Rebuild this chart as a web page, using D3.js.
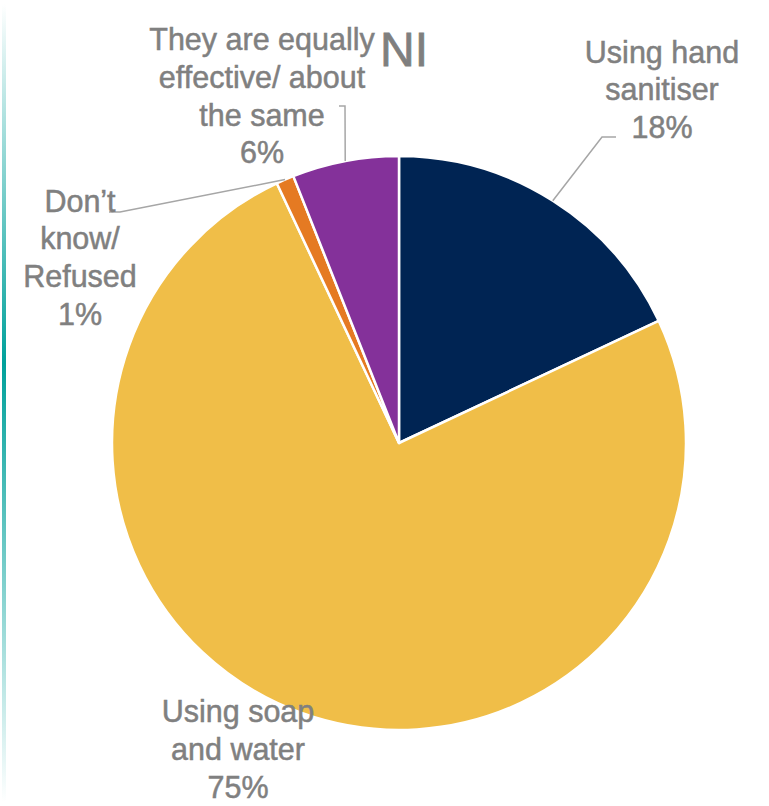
<!DOCTYPE html>
<html>
<head>
<meta charset="utf-8">
<script src="https://cdn.jsdelivr.net/npm/d3@7"></script>
<style>
  html, body { margin: 0; padding: 0; background: #ffffff; }
  svg { display: block; }
</style>
</head>
<body>
<svg id="chart" width="769" height="806"></svg>
<script>
// ---- data ----
const title = "NI";
const categories = ["Using hand sanitiser", "Using soap and water", "Don’t know/ Refused", "They are equally effective/ about the same"];
const values = [18, 75, 1, 6];
const labelLines = [
  ["Using hand", "sanitiser"],
  ["Using soap", "and water"],
  ["Don’t", "know/", "Refused"],
  ["They are equally", "effective/ about", "the same"]
];
const colors = ["#002453", "#F0BE48", "#E57A22", "#84319A"];

// ---- layout ----
const W = 769, H = 806;
const cx = 399, cy = 443, R = 287;
const fontSize = 30.5, lineH = 37.8;
const textColor = "#808080", leaderColor = "#a6a6a6";
// label layout: center x, first baseline y, leader elbow points (after the arc point)
const labelLayout = [
  { x: 662, y: 62.5, leader: [[602, 137], [616, 137]] },
  { x: 238, y: 722, leader: null },
  { x: 80,  y: 211.5, leader: [[120, 212], [109, 212]] },
  { x: 262, y: 50, leader: [[345, 106], [339, 106]] }
];

const svg = d3.select("#chart");

// left accent bar with gradient
const defs = svg.append("defs");
const grad = defs.append("linearGradient").attr("id", "bar").attr("x1", 0).attr("y1", 0).attr("x2", 0).attr("y2", 1);
grad.append("stop").attr("offset", "0%").attr("stop-color", "#ffffff");
grad.append("stop").attr("offset", "45%").attr("stop-color", "#00A19B");
grad.append("stop").attr("offset", "100%").attr("stop-color", "#ffffff");
svg.append("rect").attr("x", 2).attr("y", 4).attr("width", 4).attr("height", 798).attr("fill", "url(#bar)");

const pie = d3.pie().sort(null).value(d => d)(values);
const arc = d3.arc().innerRadius(0).outerRadius(R);

const g = svg.append("g").attr("transform", `translate(${cx},${cy})`);
g.selectAll("path.slice")
  .data(pie)
  .join("path")
  .attr("class", "slice")
  .attr("d", arc)
  .attr("fill", (d, i) => colors[i])
  .attr("stroke", "#ffffff")
  .attr("stroke-width", 2.5)
  .attr("stroke-linejoin", "round");

// leader lines
pie.forEach((d, i) => {
  const L = labelLayout[i];
  if (!L.leader) return;
  const mid = (d.startAngle + d.endAngle) / 2;
  const p0 = [cx + R * Math.sin(mid), cy - R * Math.cos(mid)];
  svg.append("polyline")
    .attr("points", [p0, ...L.leader].map(p => p.join(",")).join(" "))
    .attr("fill", "none")
    .attr("stroke", leaderColor)
    .attr("stroke-width", 1.5);
});

// labels
const fmt = v => Math.round(v) + "%";
pie.forEach((d, i) => {
  const L = labelLayout[i];
  const lines = labelLines[i].concat([fmt(d.data)]);
  const t = svg.append("text")
    .attr("text-anchor", "middle")
    .attr("font-family", "Liberation Sans, Arial, sans-serif")
    .attr("font-size", fontSize)
    .attr("fill", textColor)
    .attr("stroke", textColor)
    .attr("stroke-width", 0.5);
  lines.forEach((ln, k) => {
    t.append("tspan").attr("x", L.x).attr("y", L.y + k * lineH).text(ln);
  });
});

// title
svg.append("text")
  .attr("x", 404).attr("y", 66)
  .attr("text-anchor", "middle")
  .attr("font-family", "Liberation Sans, Arial, sans-serif")
  .attr("font-size", 48)
  .attr("fill", "#7f7f7f")
  .attr("stroke", "#7f7f7f")
  .attr("stroke-width", 0.8)
  .text(title);
</script>
</body>
</html>
